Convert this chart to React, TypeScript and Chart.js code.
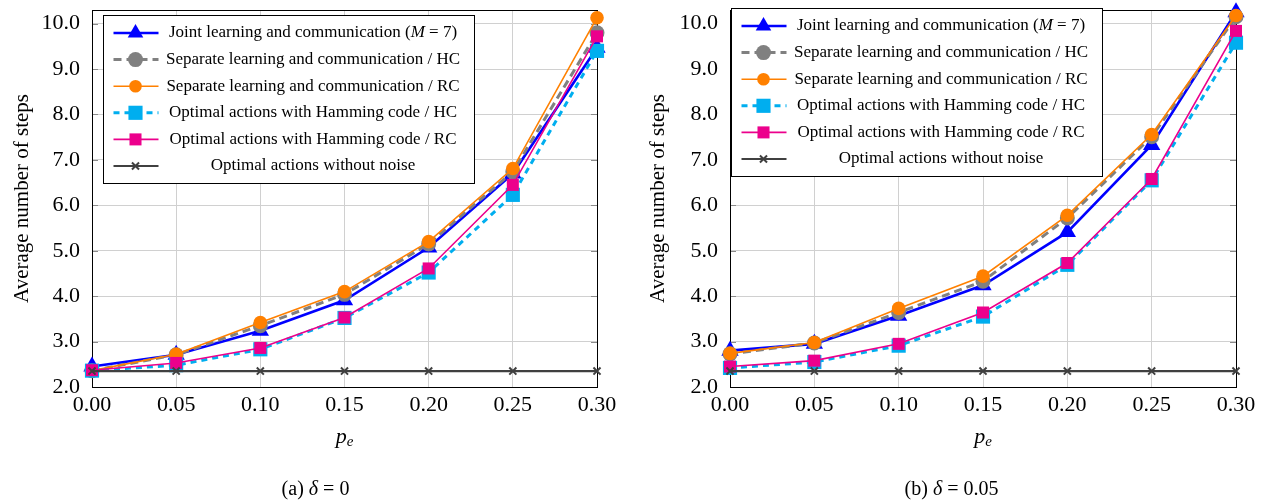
import React, { useEffect, useRef } from 'react';
import { Chart, registerables } from 'chart.js';
import { drawPoint } from 'chart.js/helpers';

Chart.register(...registerables);

// ---------- data ----------
const xLabels = ['0.00', '0.05', '0.10', '0.15', '0.20', '0.25', '0.30'];
const yTicks = [2, 3, 4, 5, 6, 7, 8, 9, 10];

const seriesNames = [
  'Joint learning and communication ($M$ = 7)',
  'Separate learning and communication / HC',
  'Separate learning and communication / RC',
  'Optimal actions with Hamming code / HC',
  'Optimal actions with Hamming code / RC',
  'Optimal actions without noise',
];

// (a) delta = 0
const jointA = [2.45, 2.71, 3.24, 3.91, 5.07, 6.70, 9.47];
const slcHcA = [2.36, 2.71, 3.35, 4.04, 5.15, 6.74, 9.80];
const slcRcA = [2.36, 2.72, 3.42, 4.10, 5.20, 6.81, 10.13];
const oaHcA = [2.36, 2.48, 2.83, 3.52, 4.52, 6.23, 9.40];
const oaRcA = [2.37, 2.53, 2.86, 3.53, 4.61, 6.45, 9.72];
const noNoiseA = [2.35, 2.35, 2.35, 2.35, 2.35, 2.35, 2.35];

// (b) delta = 0.05
const jointB = [2.80, 2.95, 3.57, 4.24, 5.41, 7.33, 10.25];
const slcHcB = [2.73, 2.97, 3.64, 4.33, 5.72, 7.51, 10.15];
const slcRcB = [2.74, 2.98, 3.73, 4.44, 5.78, 7.56, 10.18];
const oaHcB = [2.42, 2.55, 2.91, 3.55, 4.69, 6.55, 9.58];
const oaRcB = [2.45, 2.58, 2.95, 3.64, 4.73, 6.58, 9.84];
const noNoiseB = [2.35, 2.35, 2.35, 2.35, 2.35, 2.35, 2.35];

// ---------- styles ----------
const FONT = "'Liberation Serif', 'DejaVu Serif', serif";
const seriesStyles = [
  { color: '#0000ff', width: 2.6, dash: [] as number[], point: 'triangle', radius: 10, legendRadius: 9, pbw: 0 },
  { color: '#808080', width: 3, dash: [8, 5], point: 'circle', radius: 7.5, legendRadius: 7.5, pbw: 0 },
  { color: '#ff8000', width: 1.6, dash: [] as number[], point: 'circle', radius: 6.8, legendRadius: 6.3, pbw: 0 },
  { color: '#00aeef', width: 3, dash: [6, 5], point: 'rect', radius: 10, legendRadius: 10, pbw: 0 },
  { color: '#ec008c', width: 1.6, dash: [] as number[], point: 'rect', radius: 8.5, legendRadius: 8.5, pbw: 0 },
  { color: '#404040', width: 2.2, dash: [] as number[], point: 'crossRot', radius: 5, legendRadius: 5, pbw: 2 },
];

type Geo = {
  width: number;
  yWidth: number;
  padRight: number;
  titlePad: number;
  legendDx: number;
  legendTop: number;
};

function drawRichText(ctx: CanvasRenderingContext2D, text: string, cx: number, cy: number, size: number) {
  const parts = text.split('$').map((t, i) => ({ t, italic: i % 2 === 1 }));
  const fontOf = (it: boolean) => `${it ? 'italic ' : ''}${size}px ${FONT}`;
  let total = 0;
  for (const p of parts) {
    ctx.font = fontOf(p.italic);
    total += ctx.measureText(p.t).width;
  }
  let x = cx - total / 2;
  ctx.textBaseline = 'middle';
  ctx.textAlign = 'left';
  for (const p of parts) {
    ctx.font = fontOf(p.italic);
    ctx.fillText(p.t, x, cy);
    x += ctx.measureText(p.t).width;
  }
}

function PlotPanel({ series, geo }: { series: number[][]; geo: Geo }) {
  const ref = useRef<HTMLCanvasElement | null>(null);
  useEffect(() => {
    const canvas = ref.current!;
    const datasets = series.map((d, i) => {
      const s = seriesStyles[i];
      return {
        label: seriesNames[i],
        data: d,
        borderColor: s.color,
        backgroundColor: s.color,
        borderWidth: s.width,
        borderDash: s.dash,
        pointStyle: s.point,
        pointRadius: s.radius,
        pointBackgroundColor: s.color,
        pointBorderColor: s.color,
        pointBorderWidth: s.pbw,
        tension: 0,
        clip: false,
        order: series.length - i,
      };
    });

    const framePlugin = {
      id: 'frameAndExtras',
      beforeDatasetsDraw(chart: any) {
        const { ctx, chartArea: a, scales } = chart;
        ctx.save();
        ctx.strokeStyle = '#8a8a8a';
        ctx.lineWidth = 1;
        for (const v of yTicks) {
          const y = Math.round(scales.y.getPixelForValue(v)) + 0.5;
          ctx.beginPath();
          ctx.moveTo(a.left, y);
          ctx.lineTo(a.left + 6, y);
          ctx.moveTo(a.right - 6, y);
          ctx.lineTo(a.right, y);
          ctx.stroke();
        }
        ctx.strokeStyle = '#000';
        ctx.strokeRect(Math.round(a.left) + 0.5, Math.round(a.top) + 0.5, Math.round(a.width), Math.round(a.height));
        ctx.restore();
      },
      afterDraw(chart: any) {
        const { ctx, chartArea: a } = chart;
        ctx.save();
        // x-axis title p_e
        const cx = (a.left + a.right) / 2;
        const ty = 437;
        ctx.fillStyle = '#000';
        ctx.textBaseline = 'alphabetic';
        ctx.textAlign = 'left';
        ctx.font = `italic 22px ${FONT}`;
        const pw = ctx.measureText('p').width;
        ctx.font = `italic 15px ${FONT}`;
        const ew = ctx.measureText('e').width;
        const sx = cx - (pw + ew) / 2;
        ctx.font = `italic 22px ${FONT}`;
        ctx.fillText('p', sx, ty + 6);
        ctx.font = `italic 15px ${FONT}`;
        ctx.fillText('e', sx + pw, ty + 9);

        // legend
        const bx = Math.round(a.left + geo.legendDx) + 0.5;
        const by = geo.legendTop + 0.5;
        const bw = 371;
        const bh = 168;
        ctx.fillStyle = '#fff';
        ctx.fillRect(bx, by, bw, bh);
        ctx.strokeStyle = '#000';
        ctx.lineWidth = 1;
        ctx.setLineDash([]);
        ctx.strokeRect(bx, by, bw, bh);
        const rowH = 26.6;
        seriesNames.forEach((name, i) => {
          const s = seriesStyles[i];
          const y = by + 17.5 + i * rowH;
          ctx.save();
          ctx.strokeStyle = s.color;
          ctx.lineWidth = s.width;
          ctx.setLineDash(s.dash);
          ctx.beginPath();
          ctx.moveTo(bx + 10, y);
          ctx.lineTo(bx + 55, y);
          ctx.stroke();
          ctx.setLineDash([]);
          ctx.fillStyle = s.color;
          ctx.strokeStyle = s.color;
          ctx.lineWidth = s.pbw;
          drawPoint(ctx, {
            pointStyle: s.point as any,
            radius: s.legendRadius,
            rotation: 0,
            borderWidth: s.pbw,
          } as any, bx + 32, y);
          ctx.restore();
          ctx.fillStyle = '#000';
          drawRichText(ctx, name, bx + 209.5, y, 17);
        });
        ctx.restore();
      },
    };

    const chart = new Chart(canvas, {
      type: 'line',
      data: { labels: xLabels, datasets: datasets as any },
      options: {
        responsive: false,
        animation: false,
        events: [],
        layout: { padding: { top: 7, right: geo.padRight, left: 0, bottom: 0 } },
        plugins: { legend: { display: false }, tooltip: { enabled: false } },
        scales: {
          x: {
            type: 'category',
            offset: false,
            grid: { color: '#d0d0d0', lineWidth: 1, drawTicks: false, offset: false },
            border: { display: false },
            ticks: {
              color: '#000',
              padding: 5,
              maxRotation: 0,
              autoSkip: false,
              font: { family: FONT, size: 22 },
            },
            afterFit: (s: any) => {
              s.height = 117;
              s.paddingLeft = 0;
              s.paddingRight = 0;
              s.paddingTop = 0;
              s.paddingBottom = 0;
            },
          },
          y: {
            type: 'linear',
            min: 2,
            max: 10.3,
            grid: { color: '#d0d0d0', lineWidth: 1, drawTicks: false },
            border: { display: false },
            afterBuildTicks: (s: any) => {
              s.ticks = yTicks.map((v) => ({ value: v }));
            },
            ticks: {
              color: '#000',
              padding: 12,
              font: { family: FONT, size: 22 },
              callback: (v: any) => Number(v).toFixed(1),
            },
            title: {
              display: true,
              text: 'Average number of steps',
              color: '#000',
              font: { family: FONT, size: 21 },
              padding: { top: geo.titlePad, bottom: 0 },
            },
            afterFit: (s: any) => {
              s.width = geo.yWidth;
              s.paddingLeft = 0;
              s.paddingRight = 0;
              s.paddingTop = 0;
              s.paddingBottom = 0;
            },
          },
        },
      },
      plugins: [framePlugin as any],
    });
    return () => chart.destroy();
  }, []);
  return <canvas ref={ref} width={geo.width} height={504} style={{ display: 'block', width: geo.width, height: 504 }} />;
}

const geoA: Geo = { width: 640, yWidth: 92, padRight: 43, titlePad: 10, legendDx: 11, legendTop: 15 };
const geoB: Geo = { width: 623, yWidth: 90, padRight: 27, titlePad: 6, legendDx: 1, legendTop: 8 };

const captionStyle: React.CSSProperties = {
  position: 'absolute',
  top: 474,
  height: 28,
  lineHeight: '28px',
  textAlign: 'center',
  fontFamily: FONT,
  fontSize: 20,
  color: '#000',
};

export default function App() {
  return (
    <div style={{ position: 'absolute', left: 0, top: 0, width: 1263, height: 504, background: '#fff', overflow: 'hidden' }}>
      <div style={{ position: 'absolute', left: 0, top: 0 }}>
        <PlotPanel series={[jointA, slcHcA, slcRcA, oaHcA, oaRcA, noNoiseA]} geo={geoA} />
      </div>
      <div style={{ position: 'absolute', left: 640, top: 0 }}>
        <PlotPanel series={[jointB, slcHcB, slcRcB, oaHcB, oaRcB, noNoiseB]} geo={geoB} />
      </div>
      <div style={{ ...captionStyle, left: 0, width: 631 }}>
        (a) <i>δ</i> = 0
      </div>
      <div style={{ ...captionStyle, left: 640, width: 623 }}>
        (b) <i>δ</i> = 0.05
      </div>
    </div>
  );
}
